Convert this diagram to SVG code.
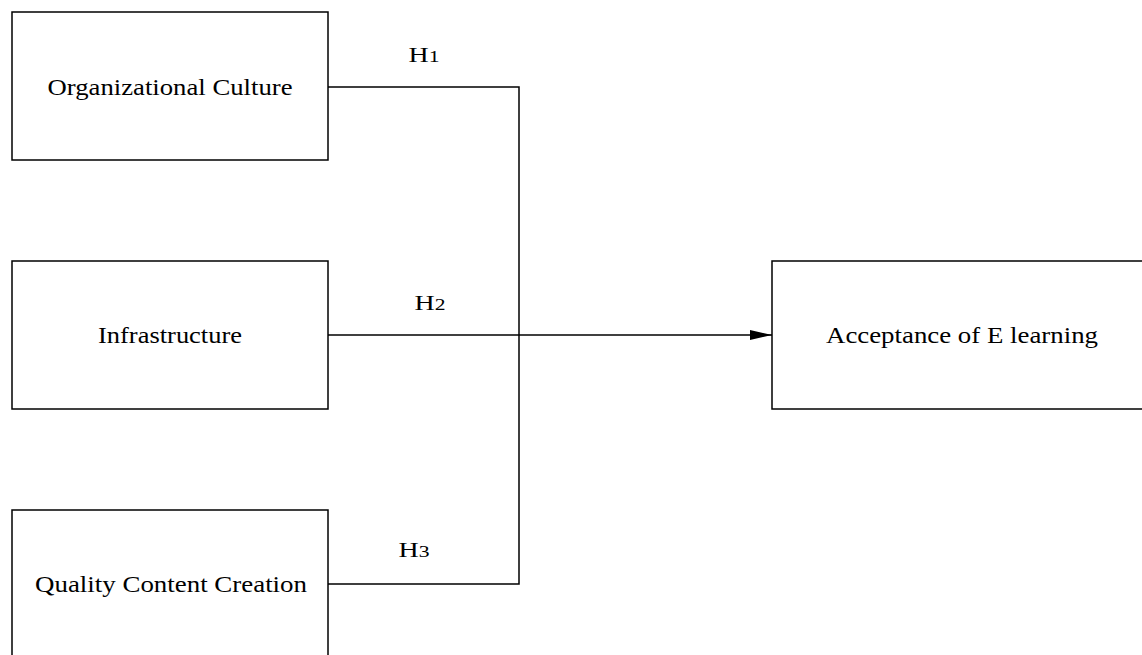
<svg xmlns="http://www.w3.org/2000/svg" width="1142" height="655" viewBox="0 0 1142 655">
<style>
.box{fill:#fff;stroke:#000;stroke-width:1.5}
.t{font-family:"Liberation Serif",serif;font-size:23px;fill:#000;text-anchor:middle;dominant-baseline:central}
.lbl{font-family:"Liberation Serif",serif;font-size:22px;fill:#000;text-anchor:middle}
.c{fill:none;stroke:#000;stroke-width:1.5}
</style>
<defs>
<marker id="arr" markerWidth="22" markerHeight="10" refX="22" refY="5" orient="auto" markerUnits="userSpaceOnUse">
<path d="M0,0 L22,5 L0,10 Z" fill="#000"/>
</marker>
</defs>
<rect width="1142" height="655" fill="#fff"/>
<g id="n1"><rect class="box" x="12" y="12" width="316" height="148"/><text class="t" x="170" y="87" textLength="245" lengthAdjust="spacingAndGlyphs">Organizational Culture</text></g>
<g id="n2"><rect class="box" x="12" y="261" width="316" height="148"/><text class="t" x="170" y="335" textLength="144" lengthAdjust="spacingAndGlyphs">Infrastructure</text></g>
<g id="n3"><rect class="box" x="12" y="510" width="316" height="160"/><text class="t" x="171" y="584" textLength="272" lengthAdjust="spacingAndGlyphs">Quality Content Creation</text></g>
<g id="n4"><rect class="box" x="772" y="261" width="380" height="148"/><text class="t" x="962" y="335" textLength="272" lengthAdjust="spacingAndGlyphs">Acceptance of E learning</text></g>
<g id="connectors">
<path class="c" d="M328,87 H519 V584 H328"/>
<path class="c" d="M328,335 H772" marker-end="url(#arr)"/>
<text class="lbl" x="424" y="62" textLength="31" lengthAdjust="spacingAndGlyphs">H<tspan font-size="17">1</tspan></text>
<text class="lbl" x="430" y="310" textLength="31" lengthAdjust="spacingAndGlyphs">H<tspan font-size="17">2</tspan></text>
<text class="lbl" x="414" y="557" textLength="31" lengthAdjust="spacingAndGlyphs">H<tspan font-size="17">3</tspan></text>
</g>
</svg>
